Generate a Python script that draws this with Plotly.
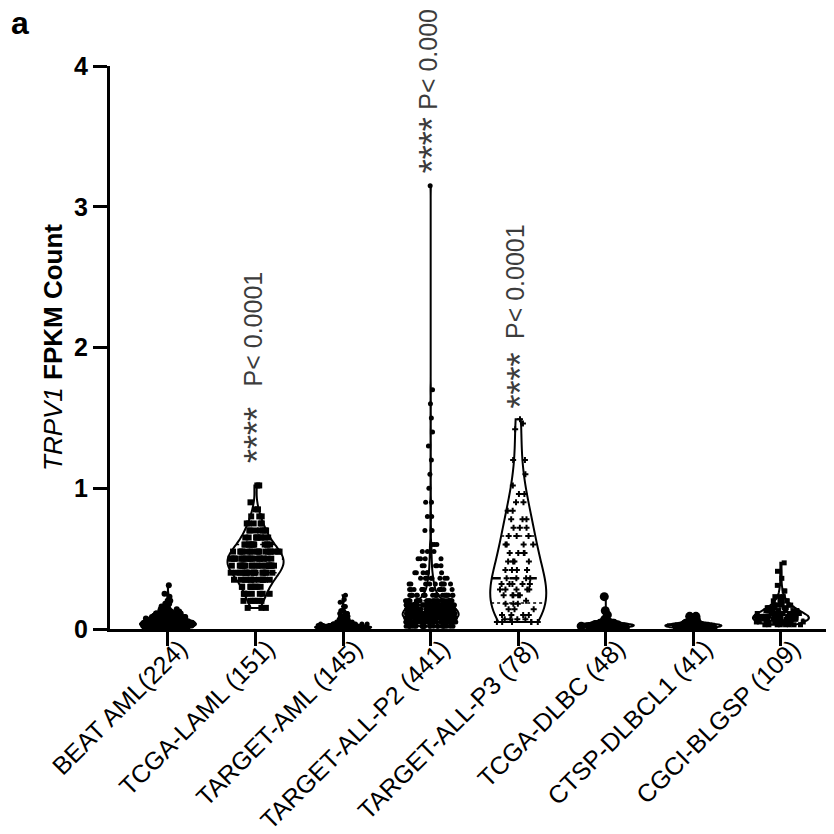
import numpy as np
import plotly.graph_objects as go

CATEGORIES = [
    "BEAT AML(224)",
    "TCGA-LAML (151)",
    "TARGET-AML (145)",
    "TARGET-ALL-P2 (441)",
    "TARGET-ALL-P3 (78)",
    "TCGA-DLBC (48)",
    "CTSP-DLBCL1 (41)",
    "CGCI-BLGSP (109)",
]

# FPKM values, as value levels and how many samples sit at each
BEAT_AML_VALUES = [0.005, 0.015, 0.025, 0.035, 0.045, 0.055, 0.065, 0.075, 0.085, 0.095,
                   0.11, 0.125, 0.14, 0.16, 0.18, 0.2, 0.23, 0.25, 0.31]
BEAT_AML_COUNTS = [15, 22, 27, 28, 26, 22, 18, 15, 12, 10, 8, 6, 5, 3, 2, 2, 1, 1, 1]

TCGA_LAML_VALUES = [0.15, 0.2, 0.25, 0.3, 0.35, 0.4, 0.45, 0.5, 0.55, 0.6, 0.65, 0.7,
                    0.75, 0.8, 0.85, 0.9, 1.02]
TCGA_LAML_COUNTS = [3, 6, 7, 9, 12, 16, 20, 20, 17, 12, 9, 7, 5, 3, 2, 1, 2]

TARGET_AML_VALUES = [0.005, 0.015, 0.025, 0.035, 0.05, 0.07, 0.09, 0.11, 0.13, 0.16, 0.19, 0.21, 0.24]
TARGET_AML_COUNTS = [35, 35, 25, 15, 10, 7, 5, 4, 4, 2, 1, 1, 1]

TARGET_ALL_P2_VALUES = [0.02, 0.05, 0.08, 0.11, 0.14, 0.17, 0.2, 0.24, 0.28, 0.32, 0.36, 0.4,
                        0.45, 0.5, 0.55, 0.6, 0.7, 0.8, 0.9, 1.0, 1.1, 1.2, 1.3, 1.4, 1.5,
                        1.6, 1.7, 3.15]
TARGET_ALL_P2_COUNTS = [24, 50, 68, 70, 62, 46, 32, 22, 14, 10, 8, 6, 5, 4, 3, 3, 2, 2, 2,
                        1, 1, 1, 1, 1, 1, 1, 1, 1]

TARGET_ALL_P3_VALUES = [0.05, 0.07, 0.1, 0.14, 0.18, 0.2, 0.24, 0.28, 0.32, 0.36, 0.42, 0.48,
                        0.54, 0.6, 0.66, 0.72, 0.78, 0.84, 0.9, 0.96, 1.02, 1.1, 1.2, 1.42,
                        1.46, 1.49]
TARGET_ALL_P3_COUNTS = [6, 4, 4, 3, 3, 1, 5, 5, 5, 4, 4, 4, 4, 4, 3, 3, 3, 2, 2, 2, 1, 1, 2,
                        1, 1, 1]

TCGA_DLBC_VALUES = [0.01, 0.02, 0.03, 0.04, 0.05, 0.07, 0.1, 0.13, 0.23]
TCGA_DLBC_COUNTS = [8, 12, 12, 8, 4, 1, 1, 1, 1]

CTSP_DLBCL1_VALUES = [0.01, 0.02, 0.03, 0.04, 0.05, 0.07, 0.09]
CTSP_DLBCL1_COUNTS = [8, 10, 10, 6, 3, 2, 2]

CGCI_BLGSP_VALUES = [0.03, 0.05, 0.07, 0.09, 0.11, 0.13, 0.15, 0.17, 0.2, 0.23, 0.27, 0.31,
                     0.36, 0.41, 0.47]
CGCI_BLGSP_COUNTS = [8, 15, 18, 17, 13, 10, 8, 6, 5, 3, 2, 1, 1, 1, 1]

SIG_GROUPS = ["TCGA-LAML (151)", "TARGET-ALL-P2 (441)", "TARGET-ALL-P3 (78)"]
SIG_STARS = ["****", "****", "****"]
SIG_P = ["P< 0.0001", "P< 0.0001", "P< 0.0001"]

Y_TICKS = [0, 1, 2, 3, 4]

groups = [
    (BEAT_AML_VALUES, BEAT_AML_COUNTS),
    (TCGA_LAML_VALUES, TCGA_LAML_COUNTS),
    (TARGET_AML_VALUES, TARGET_AML_COUNTS),
    (TARGET_ALL_P2_VALUES, TARGET_ALL_P2_COUNTS),
    (TARGET_ALL_P3_VALUES, TARGET_ALL_P3_COUNTS),
    (TCGA_DLBC_VALUES, TCGA_DLBC_COUNTS),
    (CTSP_DLBCL1_VALUES, CTSP_DLBCL1_COUNTS),
    (CGCI_BLGSP_VALUES, CGCI_BLGSP_COUNTS),
]

# styling
marker_sizes = [6, 6, 5, 5, 5, 9, 9, 5]
marker_symbols = ["circle", "square", "circle", "circle", "cross", "circle", "circle", "square"]
star_gap = [23, 13, 12]   # px between violin top and the stars
p_gap = [23, 10, 15]      # px between stars and the P value
VIOLIN_WIDTH = 0.64
FONT = "Arial, Liberation Sans, sans-serif"
STAR_SIZE = 36
P_SIZE = 25


def _half_width(vals, levels):
    """Violin half-width at given levels, same KDE rule plotly uses (Silverman, hard span)."""
    n = len(vals)
    q1, q3 = np.percentile(vals, [25, 75])
    bw = 1.059 * min(vals.std(ddof=1), (q3 - q1) / 1.349) * n ** -0.2
    grid = np.linspace(vals.min(), vals.max(), 200)

    def dens(y):
        u = (np.asarray(y)[:, None] - vals[None, :]) / bw
        return np.exp(-0.5 * u * u).sum(axis=1)

    peak = dens(grid).max()
    return dens(levels) / peak * VIOLIN_WIDTH / 2


fig = go.Figure()
data_by_group = {}
for i, (name, (vals, counts)) in enumerate(zip(CATEGORIES, groups)):
    y = np.repeat(np.array(vals, dtype=float), counts)
    data_by_group[name] = y
    fig.add_trace(
        go.Violin(
            x=[i] * len(y),
            y=y,
            name=name,
            width=VIOLIN_WIDTH,
            spanmode="hard",
            scalemode="width",
            points="all",
            pointpos=0,
            jitter=0.9,
            line={"color": "black", "width": 2},
            fillcolor="white",
            marker={"color": "black", "size": marker_sizes[i], "symbol": marker_symbols[i]},
            box_visible=False,
            meanline_visible=False,
            hoveron="points",
            showlegend=False,
        )
    )

# median (dashed) and quartiles (dotted) spanning the violin, GraphPad style
for i, name in enumerate(CATEGORIES):
    y = data_by_group[name]
    q1, med, q3 = np.percentile(y, [25, 50, 75])
    hw = _half_width(y, np.array([q1, med, q3]))
    for level, w, dash, lw in zip([q1, med, q3], hw, ["dot", "dash", "dot"], [1.5, 2.5, 1.5]):
        fig.add_trace(
            go.Scatter(
                x=[i - w, i + w],
                y=[level, level],
                mode="lines",
                line={"color": "black", "width": lw, "dash": dash},
                hoverinfo="skip",
                showlegend=False,
            )
        )

star_len = 4 * 0.389 * STAR_SIZE
for k, name in enumerate(SIG_GROUPS):
    top = data_by_group[name].max()
    xi = CATEGORIES.index(name)
    fig.add_annotation(
        x=xi, y=top, yshift=star_gap[k] - 2, xshift=2, text=SIG_STARS[k], textangle=-90,
        yanchor="bottom", xanchor="center", showarrow=False, borderpad=0,
        font={"size": STAR_SIZE, "color": "#3c3c3c", "family": FONT},
    )
    fig.add_annotation(
        x=xi, y=top, yshift=star_gap[k] + star_len + p_gap[k] - 4, xshift=-3, text=SIG_P[k],
        textangle=-90, yanchor="bottom", xanchor="center", showarrow=False, borderpad=0,
        font={"size": P_SIZE, "color": "#3c3c3c", "family": FONT},
    )

fig.add_annotation(
    text="<b>a</b>",
    xref="paper",
    yref="paper",
    x=-0.124,
    y=1.076,
    xanchor="center",
    yanchor="middle",
    showarrow=False,
    font={"size": 32, "color": "black", "family": FONT},
)

# the page adds an 8px body margin, so the plot box is set 8px up/left of its target
fig.update_layout(
    width=834,
    height=834,
    margin={"l": 102, "r": 8, "t": 58, "b": 213, "autoexpand": False},
    plot_bgcolor="white",
    paper_bgcolor="white",
    font={"family": FONT, "color": "black"},
    violinmode="overlay",
    violingap=0,
)
fig.update_xaxes(
    range=[-0.662, 7.606],
    tickvals=list(range(len(CATEGORIES))),
    ticktext=CATEGORIES,
    tickangle=-45,
    ticks="outside",
    ticklen=14,
    tickwidth=3,
    tickcolor="black",
    showline=True,
    linewidth=3,
    linecolor="black",
    showgrid=False,
    zeroline=False,
    automargin=False,
    ticklabelstandoff=-22,
    ticklabelshift=12,
    tickfont={"size": 25, "color": "black"},
)
fig.update_yaxes(
    range=[0, 4],
    tickvals=Y_TICKS,
    ticks="outside",
    ticklen=14,
    tickwidth=3,
    tickcolor="black",
    showline=True,
    linewidth=3,
    linecolor="black",
    showgrid=False,
    zeroline=False,
    automargin=False,
    tickfont={"size": 25, "color": "black", "weight": "bold"},
    title={"text": "<i>TRPV1</i> <b>FPKM Count</b>", "font": {"size": 26}, "standoff": 4},
)

fig.write_html("out.html")
